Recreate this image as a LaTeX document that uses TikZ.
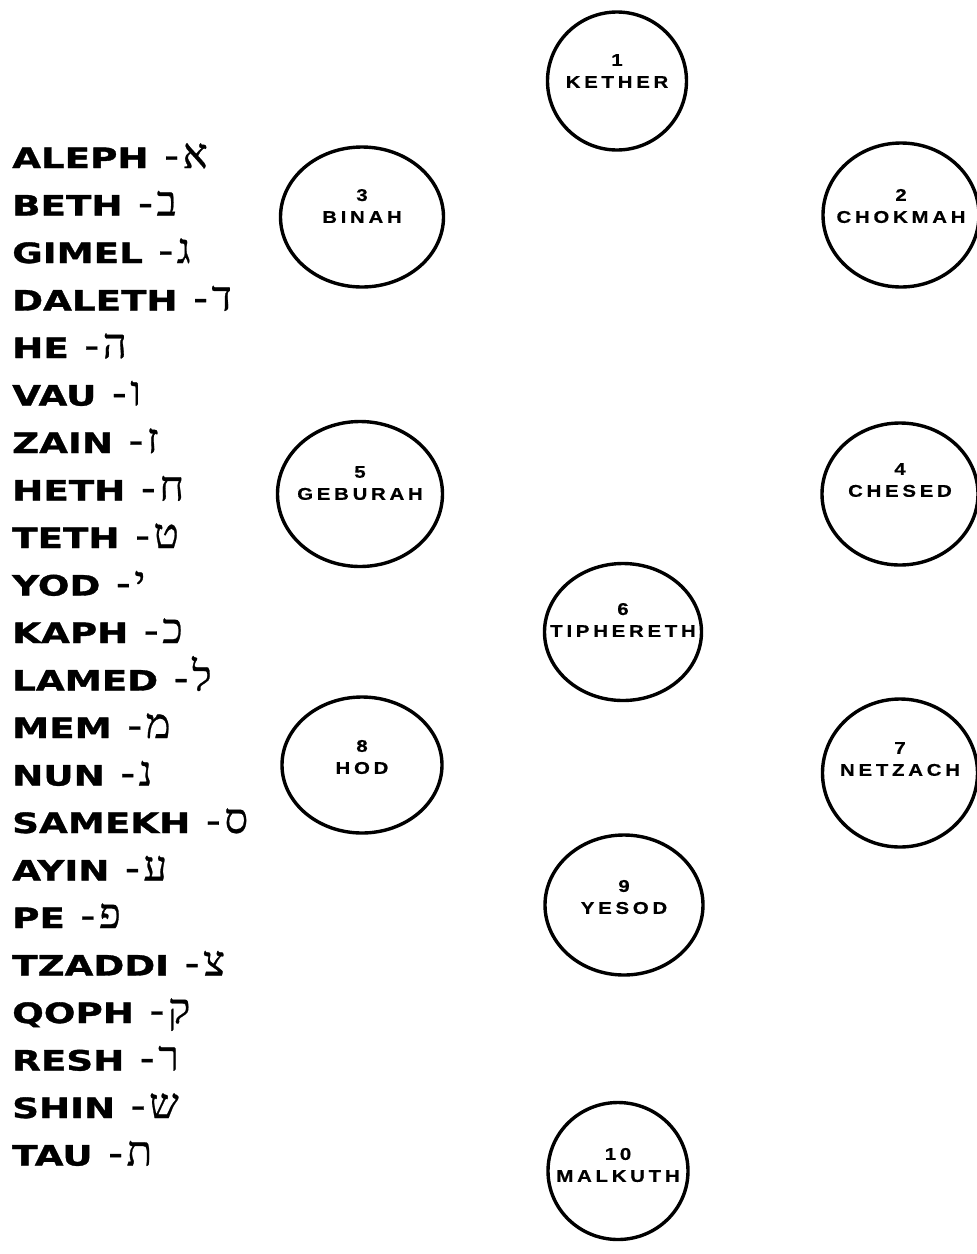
\documentclass[tikz,border=0pt]{standalone}
\usepackage{fontspec}
\usetikzlibrary{positioning, shapes.geometric}
\TeXXeTstate=1
\newfontfamily\namefont{DejaVu Sans}[FakeStretch=1.33, FakeBold=1.2]
\newfontfamily\hebfont{Liberation Serif}[Script=Hebrew, FakeBold=0.6]
\newfontfamily\sephfont{Liberation Sans}[FakeStretch=1.2, LetterSpace=22, FakeBold=0.6]
\newcommand{\hebl}[1]{{\hebfont\mdseries\fontsize{42}{42}\selectfont\kern3pt-\kern4pt\beginR#1\endR}}

\begin{document}
\begin{tikzpicture}[
  x=1pt, y=-1pt,
  node distance=47.5pt,
  sephira/.style={ellipse, draw, line width=3.4pt, inner sep=0pt},
  title/.style={align=center, inner sep=0pt, yshift=11pt,
                font=\sephfont\bfseries\fontsize{17}{22}\selectfont},
  row/.style={anchor=base west, inner sep=0pt,
              font=\namefont\bfseries\fontsize{28}{30}\selectfont}
]
\useasboundingbox (0,0) rectangle (977,1254);

% the ten sephiroth
\node[sephira, minimum width=139pt, minimum height=138pt,
      label={[title, yshift=-1pt]center:1\\KETHER}] (kether) at (617,81) {};
\node[sephira, minimum width=156pt, minimum height=144pt,
      label={[title, yshift=-2pt]center:2\\CHOKMAH}] (chokmah) at (901,215) {};
\node[sephira, minimum width=163pt, minimum height=140pt,
      label={[title]center:3\\BINAH}] (binah) at (362,217) {};
\node[sephira, minimum width=156pt, minimum height=142pt,
      label={[title, yshift=3pt]center:4\\CHESED}] (chesed) at (900,494) {};
\node[sephira, minimum width=165pt, minimum height=145pt,
      label={[title]center:5\\GEBURAH}] (geburah) at (360,494) {};
\node[sephira, minimum width=157pt, minimum height=137pt,
      label={[title, yshift=1pt]center:6\\TIPHERETH}] (tiphereth) at (623,632) {};
\node[sephira, minimum width=155pt, minimum height=148pt,
      label={[title, yshift=3pt]center:7\\NETZACH}] (netzach) at (900,773) {};
\node[sephira, minimum width=160pt, minimum height=136pt,
      label={[title, yshift=-3pt]center:8\\HOD\hspace{18pt}}] (hod) at (362,765) {};
\node[sephira, minimum width=158pt, minimum height=140pt,
      label={[title, yshift=-3pt]center:9\\YESOD}] (yesod) at (624,905) {};
\node[sephira, minimum width=140pt, minimum height=137pt,
      label={[title, yshift=-5pt]center:10\\MALKUTH}] (malkuth) at (618,1171) {};

% the twenty-two letters
\node[row] (aleph) at (12,168) {ALEPH \hebl{א}};
\node[below=of aleph.base west, row] (beth) {BETH \hebl{ב}};
\node[below=of beth.base west, row] (gimel) {GIMEL \hebl{ג}};
\node[below=of gimel.base west, row] (daleth) {DALETH \hebl{ד}};
\node[below=of daleth.base west, row] (he) {HE \hebl{ה}};
\node[below=of he.base west, row] (vau) {VAU \hebl{ו}};
\node[below=of vau.base west, row] (zain) {ZAIN \hebl{ז}};
\node[below=of zain.base west, row] (heth) {HETH \hebl{ח}};
\node[below=of heth.base west, row] (teth) {TETH \hebl{ט}};
\node[below=of teth.base west, row] (yod) {YOD \hebl{י}};
\node[below=of yod.base west, row] (kaph) {KAPH \hebl{כ}};
\node[below=of kaph.base west, row] (lamed) {LAMED \hebl{ל}};
\node[below=of lamed.base west, row] (mem) {MEM \hebl{מ}};
\node[below=of mem.base west, row] (nun) {NUN \hebl{נ}};
\node[below=of nun.base west, row] (samekh) {SAMEKH \hebl{ס}};
\node[below=of samekh.base west, row] (ayin) {AYIN \hebl{ע}};
\node[below=of ayin.base west, row] (pe) {PE \hebl{פ}};
\node[below=of pe.base west, row] (tzaddi) {TZADDI \hebl{צ}};
\node[below=of tzaddi.base west, row] (qoph) {QOPH \hebl{ק}};
\node[below=of qoph.base west, row] (resh) {RESH \hebl{ר}};
\node[below=of resh.base west, row] (shin) {SHIN \hebl{ש}};
\node[below=of shin.base west, row] (tau) {TAU \hebl{ת}};

\end{tikzpicture}
\end{document}
